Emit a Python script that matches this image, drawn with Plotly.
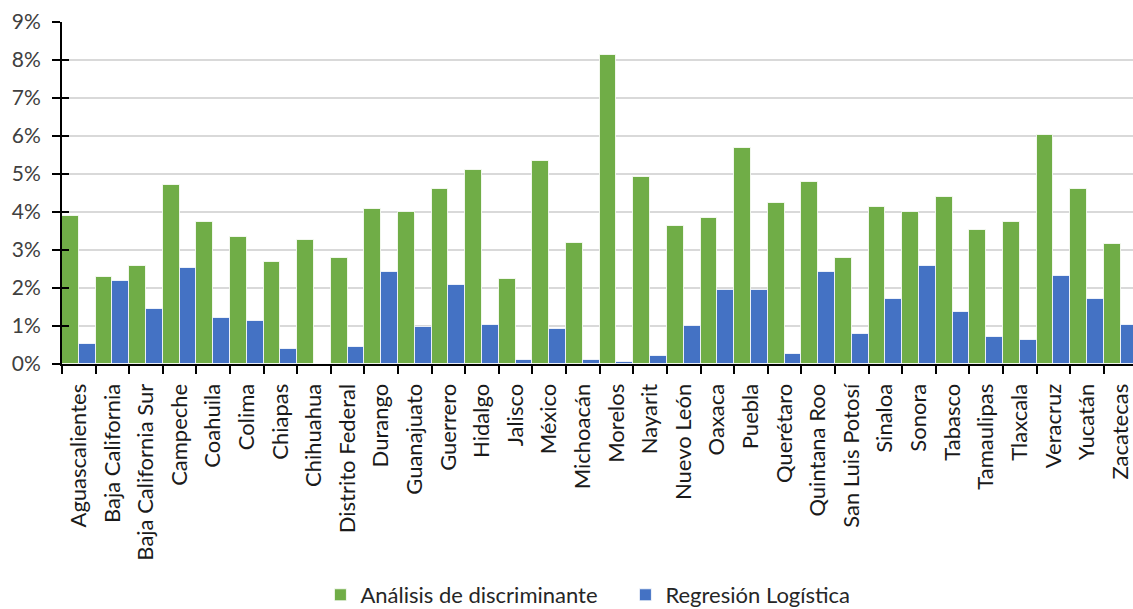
import plotly.graph_objects as go

estados = [
    "Aguascalientes", "Baja California", "Baja California Sur", "Campeche",
    "Coahuila", "Colima", "Chiapas", "Chihuahua", "Distrito Federal",
    "Durango", "Guanajuato", "Guerrero", "Hidalgo", "Jalisco", "México",
    "Michoacán", "Morelos", "Nayarit", "Nuevo León", "Oaxaca", "Puebla",
    "Querétaro", "Quintana Roo", "San Luis Potosí", "Sinaloa", "Sonora",
    "Tabasco", "Tamaulipas", "Tlaxcala", "Veracruz", "Yucatán", "Zacatecas",
]

# Percentages per state
analisis_discriminante = [
    3.90, 2.29, 2.59, 4.72, 3.74, 3.33, 2.69, 3.27, 2.80, 4.08,
    4.00, 4.61, 5.11, 2.25, 5.35, 3.19, 8.12, 4.91, 3.63, 3.84,
    5.69, 4.24, 4.78, 2.79, 4.13, 4.00, 4.40, 3.53, 3.73, 6.03,
    4.61, 3.16,
]
regresion_logistica = [
    0.53, 2.18, 1.44, 2.53, 1.20, 1.14, 0.39, 0.00, 0.46, 2.41,
    0.97, 2.08, 1.03, 0.11, 0.93, 0.11, 0.04, 0.21, 1.00, 1.95,
    1.96, 0.26, 2.41, 0.79, 1.71, 2.58, 1.37, 0.72, 0.62, 2.32,
    1.71, 1.03,
]

y_ticks = [0, 1, 2, 3, 4, 5, 6, 7, 8, 9]
y_tick_labels = [f"{v}%" for v in y_ticks]

VERDE = "#70AD47"
AZUL = "#4472C4"
FONT = "Lato, 'Open Sans', sans-serif"

fig = go.Figure()
fig.add_trace(go.Bar(
    x=estados, y=analisis_discriminante, name="Análisis de discriminante",
    marker=dict(color=VERDE, line=dict(color="rgba(255,255,255,0.8)", width=1)),
))
fig.add_trace(go.Bar(
    x=estados, y=regresion_logistica, name="Regresión Logística",
    marker=dict(color=AZUL, line=dict(color="rgba(255,255,255,0.8)", width=1)),
))
# empty trace so the secondary axis (inner half of the crossing ticks) is drawn
fig.add_trace(go.Scatter(x=[estados[0]], y=[None], yaxis="y2",
                         showlegend=False, hoverinfo="skip"))

fig.update_layout(
    width=1133, height=609,
    margin=dict(l=62, r=0, t=22, b=245, autoexpand=False),
    paper_bgcolor="white", plot_bgcolor="white",
    barmode="group", bargap=0, bargroupgap=0,
    font=dict(family=FONT, color="#262626"),
    xaxis=dict(
        type="category", range=[-0.5, 31.37], automargin=False,
        showline=True, linecolor="black", linewidth=2,
        ticks="outside", ticklen=8, tickwidth=2, tickcolor="black",
        tickson="boundaries", showgrid=False,
        tickangle=-90, tickfont=dict(size=22, color="#1a1a1a"),
        ticklabelstandoff=9,
    ),
    yaxis=dict(
        range=[0, 9], tickvals=y_ticks, ticktext=y_tick_labels,
        automargin=False,
        showline=True, linecolor="black", linewidth=2,
        ticks="outside", ticklen=8, tickwidth=2, tickcolor="black",
        showgrid=True, gridcolor="#D9D9D9", gridwidth=2,
        zeroline=False,
        tickfont=dict(size=21, color="#404040"),
        ticklabelstandoff=7,
    ),
    yaxis2=dict(
        overlaying="y", side="left", anchor="x", range=[0, 9],
        tickvals=y_ticks, showticklabels=False, automargin=False,
        ticks="inside", ticklen=7, tickwidth=2, tickcolor="black",
        showgrid=False, showline=False, zeroline=False,
    ),
    legend=dict(
        orientation="h", xref="container", yref="container",
        x=0.552, xanchor="center", y=0.023, yanchor="middle",
        font=dict(size=22, color="#262626"),
        itemwidth=30, traceorder="normal",
        entrywidth=260, entrywidthmode="pixels",
    ),
)

fig.write_html("out.html")
